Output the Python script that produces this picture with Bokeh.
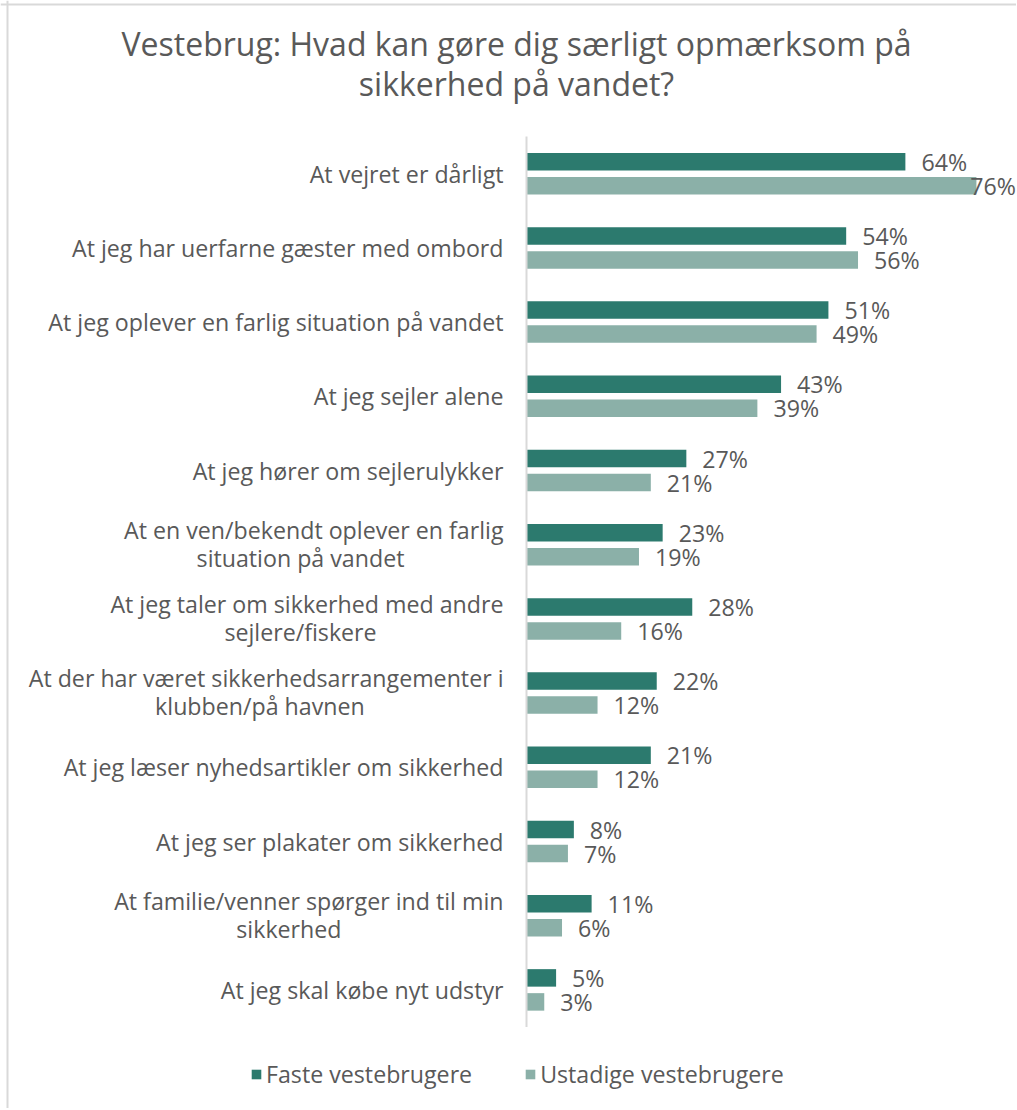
from bokeh.plotting import figure
from bokeh.models import ColumnDataSource, Range1d, Label, Legend, LegendItem, Span
from bokeh.core.properties import value
from bokeh.transform import dodge
from bokeh.embed import file_html
from bokeh.resources import INLINE

# ---------------- data ----------------
categories = [
    "At vejret er dårligt",
    "At jeg har uerfarne gæster med ombord",
    "At jeg oplever en farlig situation på vandet",
    "At jeg sejler alene",
    "At jeg hører om sejlerulykker",
    "At en ven/bekendt oplever en farlig\nsituation på vandet",
    "At jeg taler om sikkerhed med andre\nsejlere/fiskere",
    "At der har været sikkerhedsarrangementer i\nklubben/på havnen",
    "At jeg læser nyhedsartikler om sikkerhed",
    "At jeg ser plakater om sikkerhed",
    "At familie/venner spørger ind til min\nsikkerhed",
    "At jeg skal købe nyt udstyr",
]
faste = [64, 54, 51, 43, 27, 23, 28, 22, 21, 8, 11, 5]
ustadige = [76, 56, 49, 39, 21, 19, 16, 12, 12, 7, 6, 3]
series_names = ["Faste vestebrugere", "Ustadige vestebrugere"]
title_lines = ["Vestebrug: Hvad kan gøre dig særligt opmærksom på", "sikkerhed på vandet?"]

# ---------------- style / layout ----------------
DARK = "#2C7A6E"
LIGHT = "#8BB0A8"
TXT = "#595959"
FONT = "Open Sans"
W, H = 1016, 1108
PX_PER_PCT = 5.92
ZERO_X = 526.0
BAND = 74.2
FIRST_CENTER = 173.2
FS = 23.2
LBL_FS = f"{FS}px"

n = len(categories)
ytop = (n - 1) + FIRST_CENTER / BAND
ybot = ytop - H / BAND
xstart = -ZERO_X / PX_PER_PCT
xend = (W - ZERO_X) / PX_PER_PCT
DODGE = 12.0 / BAND
BAR_H = 17.5 / BAND


def label_offset(v, lbl):
    # outside-end label, pulled inwards when it would run past the chart edge
    avail = W - ZERO_X - v * PX_PER_PCT - 3
    est_w = len(lbl) * 0.62 * FS
    return min(16.0, avail - est_w)


ypos = [n - 1 - i for i in range(n)]
faste_lbl = [f"{v}%" for v in faste]
ustadige_lbl = [f"{v}%" for v in ustadige]
src = ColumnDataSource(dict(
    y=ypos, cat=categories, faste=faste, ustadige=ustadige,
    faste_lbl=faste_lbl, ustadige_lbl=ustadige_lbl,
    faste_xo=[label_offset(v, s) for v, s in zip(faste, faste_lbl)],
    ustadige_xo=[label_offset(v, s) for v, s in zip(ustadige, ustadige_lbl)],
))

p = figure(width=W, height=H, output_backend="svg", toolbar_location=None,
           x_range=Range1d(xstart, xend), y_range=Range1d(ybot, ytop),
           x_axis_type=None, y_axis_type=None, min_border=0,
           background_fill_color="white", border_fill_color="white")
p.outline_line_color = None
p.grid.visible = False

# chart border (left / top)
p.add_layout(Span(location=xstart + 7 / PX_PER_PCT, dimension="height", line_color="#D9D9D9", line_width=2))
p.add_layout(Span(location=ytop - 4 / BAND, dimension="width", line_color="#D9D9D9", line_width=2))

# bars
r1 = p.hbar(y=dodge("y", DODGE, range=p.y_range), left=0, right="faste", height=BAR_H,
            fill_color=DARK, line_color=None, source=src)
r2 = p.hbar(y=dodge("y", -DODGE, range=p.y_range), left=0, right="ustadige", height=BAR_H,
            fill_color=LIGHT, line_color=None, source=src)

# vertical category axis line
p.segment(x0=0, x1=0, y0=-0.5, y1=n - 0.5, line_color="#D9D9D9", line_width=2)

# value labels
lbl_common = dict(text_align="left", text_baseline="middle",
                  text_font=value(FONT), text_font_size=LBL_FS, text_color=TXT)
p.text(x="faste", y=dodge("y", DODGE, range=p.y_range), text="faste_lbl", x_offset="faste_xo",
       source=src, **lbl_common)
p.text(x="ustadige", y=dodge("y", -DODGE, range=p.y_range), text="ustadige_lbl", x_offset="ustadige_xo",
       source=src, **lbl_common)

# category labels (single lines right-aligned, two-line blocks centred)
single = dict(y=[], t=[])
l1 = dict(y=[], t=[])
l2 = dict(y=[], t=[], xo=[])
for yv, c in zip(ypos, categories):
    parts = c.split("\n")
    if len(parts) == 1:
        single["y"].append(yv); single["t"].append(c)
    else:
        l1["y"].append(yv); l1["t"].append(parts[0])
        l2["y"].append(yv); l2["t"].append(parts[1])
        w1 = len(parts[0]) * 0.5 * FS
        l2["xo"].append(-23 - w1 / 2)
common = dict(text_font=value(FONT), text_font_size=LBL_FS, text_color=TXT, text_baseline="middle")
p.text(x=0, y="y", text="t", source=ColumnDataSource(single), x_offset=-23, text_align="right", **common)
p.text(x=0, y="y", text="t", source=ColumnDataSource(l1), x_offset=-23, y_offset=-15, text_align="right", **common)
p.text(x=0, y="y", text="t", source=ColumnDataSource(l2), x_offset="xo", y_offset=13, text_align="center", **common)

# title
for i, tl in enumerate(title_lines):
    p.add_layout(Label(x=516, y=H - 43 - 40 * i, x_units="screen", y_units="screen",
                       text=tl, text_align="center", text_baseline="middle",
                       text_font=FONT, text_font_size="32px", text_color=TXT))

# legend
legend = Legend(items=[LegendItem(label=series_names[0], renderers=[r1]),
                       LegendItem(label=series_names[1], renderers=[r2])],
                orientation="horizontal", location=(250, 18),
                glyph_width=12, glyph_height=12, label_standoff=4, spacing=52,
                padding=0, margin=0, border_line_alpha=0, background_fill_alpha=0,
                label_text_font=FONT, label_text_font_size=LBL_FS, label_text_color=TXT)
p.add_layout(legend)

open("out.html", "w").write(file_html(p, INLINE))
